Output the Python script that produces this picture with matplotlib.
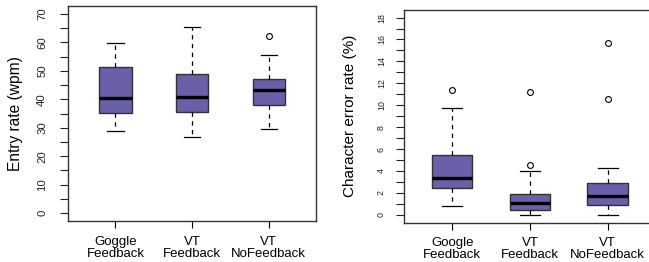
import matplotlib
matplotlib.use('Agg')
import matplotlib.pyplot as plt
import numpy as np

plt.rcParams['font.family'] = ['Liberation Sans', 'DejaVu Sans']

# ---------- data ----------
groups = ['Goggle\nFeedback', 'VT\nFeedback', 'VT\nNoFeedback']
groups_cer = ['Google\nFeedback', 'VT\nFeedback', 'VT\nNoFeedback']

# entry rate (wpm)
wpm_lo = [28.9, 26.8, 29.5]
wpm_q1 = [35.2, 35.7, 38.1]
wpm_med = [40.5, 40.9, 43.3]
wpm_q3 = [51.4, 48.8, 47.2]
wpm_hi = [59.9, 65.4, 55.5]
wpm_out = [[], [], [62.2]]

# character error rate (%)
cer_lo = [0.78, 0.0, 0.0]
cer_q1 = [2.43, 0.45, 0.90]
cer_med = [3.39, 1.11, 1.68]
cer_q3 = [5.43, 1.89, 2.94]
cer_hi = [9.75, 3.96, 4.29]
cer_out = [[11.4], [11.2, 4.56], [15.7, 10.6]]

box_color = '#6A5FA9'
edge = '#333333'


def make_stats(lo, q1, med, q3, hi, out):
    return [dict(whislo=a, q1=b, med=c, q3=d, whishi=e, fliers=f)
            for a, b, c, d, e, f in zip(lo, q1, med, q3, hi, out)]


def draw(ax, stats, labels, width, ylim, major, minor, ylabel, ysize, ypad, lab_x, lab_size):
    ax.bxp(stats, positions=[1, 2, 3], widths=width, patch_artist=True,
           showfliers=True,
           boxprops=dict(facecolor=box_color, edgecolor=edge, linewidth=1.0),
           medianprops=dict(color='black', linewidth=2.4, solid_capstyle='butt'),
           whiskerprops=dict(color='black', linewidth=0.9, linestyle=(0, (3.5, 3.5))),
           capprops=dict(color='black', linewidth=0.9),
           flierprops=dict(marker='o', markerfacecolor='none',
                           markeredgecolor='black', markersize=4.2, markeredgewidth=0.8))
    ax.set_xlim(0.38, 3.62)
    ax.set_ylim(*ylim)
    ax.set_xticks([1, 2, 3])
    ax.set_xticklabels(labels, fontsize=9.5, linespacing=1.0)
    ax.set_yticks(major)
    ax.set_yticks(minor, minor=True)
    ax.tick_params(axis='y', which='both', direction='out', length=5.5, width=0.8,
                   colors='#222222', labelrotation=90, labelsize=ysize, pad=ypad)
    ax.tick_params(axis='x', direction='out', length=5, width=0.8, pad=5.5)
    for lbl in ax.get_yticklabels():
        lbl.set_verticalalignment('center')
    ax.set_ylabel(ylabel, fontsize=lab_size)
    ax.yaxis.set_label_coords(lab_x, 0.5)
    for s in ax.spines.values():
        s.set_color(edge)
        s.set_linewidth(1.0)


fig = plt.figure(figsize=(6.49, 2.62), dpi=100)

ax1 = fig.add_axes([0.1048, 0.1565, 0.3822, 0.8205])
draw(ax1, make_stats(wpm_lo, wpm_q1, wpm_med, wpm_q3, wpm_hi, wpm_out),
     groups, 0.42, (-2.8, 72.8), np.arange(0, 71, 10), np.arange(0, 71, 5),
     'Entry rate (wpm)', 8.2, 9.5, -0.18, 11.2)

ax2 = fig.add_axes([0.6225, 0.1500, 0.3880, 0.8130])
draw(ax2, make_stats(cer_lo, cer_q1, cer_med, cer_q3, cer_hi, cer_out),
     groups_cer, 0.52, (-0.72, 18.72), np.arange(0, 19, 2), np.arange(0, 19, 1),
     'Character error rate (%)', 6.4, 7.5, -0.185, 11)

fig.savefig('out.png', dpi=100)
